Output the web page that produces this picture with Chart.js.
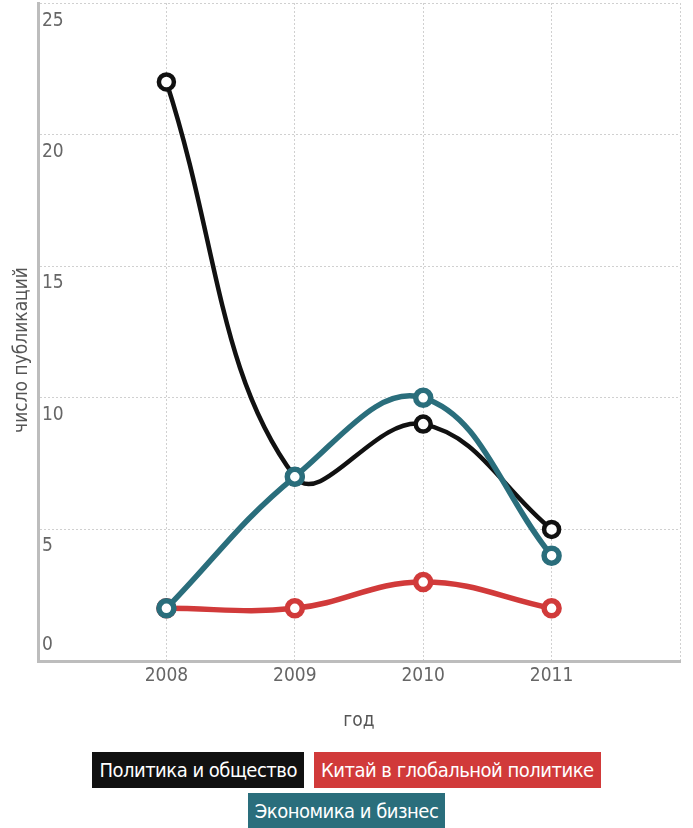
<!DOCTYPE html>
<html>
<head>
<meta charset="utf-8">
<script src="https://cdn.jsdelivr.net/npm/chart.js@4"></script>
<style>
  html, body { margin: 0; padding: 0; background: #fff; }
  body { width: 693px; height: 828px; position: relative; overflow: hidden; }
  #wrap { position: absolute; left: 0; top: -10px; width: 693px; height: 760px; }
  #legend {
    position: absolute; left: 0; top: 752px; width: 693px;
    display: flex; flex-wrap: wrap; justify-content: center; gap: 5px 10px;
    font-family: "DejaVu Sans Condensed", "Liberation Sans Narrow", sans-serif;
  }
  #legend span {
    color: #fff; font-size: 20px; letter-spacing: -0.5px; line-height: 36px; height: 36px;
    padding: 0 7px; display: inline-block;
  }
</style>
</head>
<body>
<div id="wrap"><canvas id="chart"></canvas></div>
<div id="legend"></div>
<script>
const years = [2008, 2009, 2010, 2011];
const seriesNames = ['Политика и общество', 'Китай в глобальной политике', 'Экономика и бизнес'];
const politics = [22, 7, 9, 5];
const china = [2, 2, 3, 2];
const economy = [2, 7, 10, 4];
const colors = ['#111111', '#d13a3a', '#2a6e7c'];
const yTicks = [0, 5, 10, 15, 20, 25];

const font = '"DejaVu Sans Condensed", "Liberation Sans Narrow", sans-serif';

function points(values) {
  return years.map((x, i) => ({ x: x, y: values[i] }));
}

function dataset(i, values, width, order) {
  return {
    label: seriesNames[i],
    data: points(values),
    borderColor: colors[i],
    backgroundColor: '#fff',
    borderWidth: width,
    pointRadius: 7.5,
    pointBorderWidth: width,
    pointBackgroundColor: '#fff',
    pointBorderColor: colors[i],
    tension: 0.4,
    order: order,
  };
}

// y tick labels sit just below their gridline, inside the plot area
const yLabels = {
  id: 'yLabels',
  afterDraw(chart) {
    const { ctx, chartArea, scales } = chart;
    ctx.save();
    ctx.font = '19px ' + font;
    ctx.fillStyle = '#666';
    ctx.textAlign = 'left';
    ctx.textBaseline = 'middle';
    yTicks.forEach(v => {
      let y = scales.y.getPixelForValue(v) + 17;
      y = Math.min(Math.max(y, chartArea.top + 18), chartArea.bottom - 16);
      ctx.fillText(String(v), chartArea.left + 4, y);
    });
    ctx.translate(22, (chartArea.top + chartArea.bottom) / 2 + 18);
    ctx.rotate(-Math.PI / 2);
    ctx.textAlign = 'center';
    ctx.font = '19px ' + font;
    ctx.fillStyle = '#555';
    ctx.fillText('число публикаций', 0, 0);
    ctx.restore();
  },
};

new Chart(document.getElementById('chart'), {
  type: 'line',
  data: {
    datasets: [
      dataset(0, politics, 4.5, 1),
      dataset(1, china, 5.5, 2),
      dataset(2, economy, 5.5, 0),
    ],
  },
  options: {
    responsive: true,
    maintainAspectRatio: false,
    animation: false,
    layout: { padding: { left: 38, right: 9, top: 10, bottom: 14 } },
    plugins: { legend: { display: false }, tooltip: { enabled: false } },
    scales: {
      x: {
        type: 'linear',
        min: 2007,
        max: 2012,
        afterFit(scale) { scale.height = 75; },
        ticks: {
          stepSize: 1,
          padding: 4,
          color: '#666',
          font: { family: font, size: 19 },
          callback: v => (years.includes(v) ? String(v) : ''),
        },
        grid: { color: '#d0d0d0', lineWidth: 1, drawTicks: false },
        border: { color: '#bdbdbd', width: 3, dash: [2, 2] },
        title: {
          display: true,
          text: 'год',
          color: '#555',
          font: { family: font, size: 19 },
          padding: { top: 16 },
        },
      },
      y: {
        min: 0,
        max: 25,
        ticks: { display: false, stepSize: 5 },
        grid: { color: '#d0d0d0', lineWidth: 1, drawTicks: false },
        border: { color: '#bdbdbd', width: 3, dash: [2, 2] },
      },
    },
  },
  plugins: [yLabels],
});

// legend boxes
const legend = document.getElementById('legend');
seriesNames.forEach((name, i) => {
  const s = document.createElement('span');
  s.textContent = name;
  s.style.background = colors[i];
  legend.appendChild(s);
});
</script>
</body>
</html>
